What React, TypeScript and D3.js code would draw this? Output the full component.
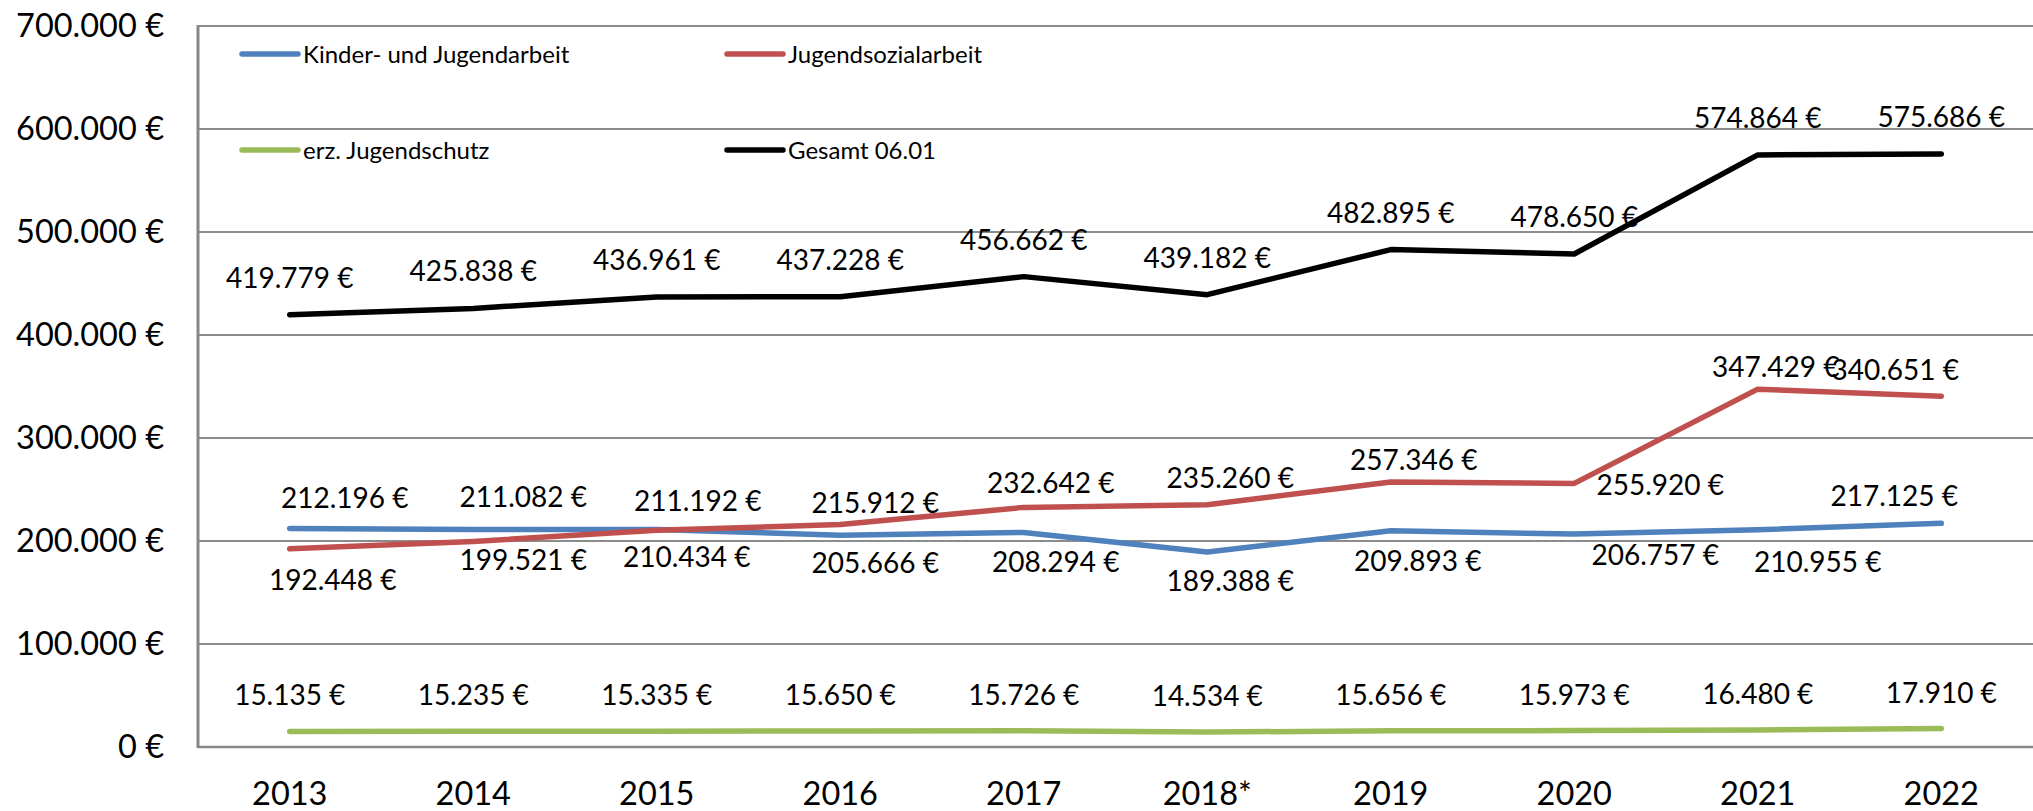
import React from "react";
import * as d3 from "d3";

// ---- Data ----
const years = ["2013", "2014", "2015", "2016", "2017", "2018*", "2019", "2020", "2021", "2022"];
const kinderJugendarbeit = [212196, 211082, 211192, 205666, 208294, 189388, 209893, 206757, 210955, 217125];
const jugendsozialarbeit = [192448, 199521, 210434, 215912, 232642, 235260, 257346, 255920, 347429, 340651];
const erzJugendschutz = [15135, 15235, 15335, 15650, 15726, 14534, 15656, 15973, 16480, 17910];
const gesamt = [419779, 425838, 436961, 437228, 456662, 439182, 482895, 478650, 574864, 575686];
const yTicks = [0, 100000, 200000, 300000, 400000, 500000, 600000, 700000];
const seriesNames = ["Kinder- und Jugendarbeit", "Jugendsozialarbeit", "erz. Jugendschutz", "Gesamt 06.01"];

// ---- Layout / style (label offsets relative to each point: [dx, dy of baseline]) ----
const blueLabelOffsets = [[55, -20], [50, -23], [41, -18], [35, 38], [32, 40], [23, 39], [27, 40], [81, 31], [60, 42], [-47, -17]];
const redLabelOffsets = [[43, 41], [50, 29], [30, 37], [35, -12], [27, -14], [23, -17], [23, -12], [86, 12], [18, -12], [-46, -16]];
const greenLabelOffsets = years.map(() => [0, -26]);
const blackLabelOffsets = years.map(() => [0, -27]);

const W = 2033;
const H = 811;
const M = { left: 198, right: 2033, top: 26, bottom: 747 };
const FONT = "Lato, 'Open Sans', sans-serif";

const colors = ["#4F81BD", "#C0504D", "#9BBB59", "#000000"];

const de = d3.formatLocale({ decimal: ",", thousands: ".", grouping: [3], currency: ["", " €"] });
const fmt = (v: number) => de.format(",.0f")(v) + " €";

export default function App() {
  const x = d3.scaleBand<string>().domain(years).range([M.left, M.right]).padding(0);
  const cx = (i: number) => (x(years[i]) as number) + x.bandwidth() / 2;
  const y = d3.scaleLinear().domain([0, 700000]).range([M.bottom, M.top]);

  const series = [
    { name: seriesNames[0], values: kinderJugendarbeit, color: colors[0], offsets: blueLabelOffsets },
    { name: seriesNames[1], values: jugendsozialarbeit, color: colors[1], offsets: redLabelOffsets },
    { name: seriesNames[2], values: erzJugendschutz, color: colors[2], offsets: greenLabelOffsets },
    { name: seriesNames[3], values: gesamt, color: colors[3], offsets: blackLabelOffsets },
  ];

  const line = d3
    .line<number>()
    .x((_, i) => cx(i))
    .y((d) => y(d));

  const legendPos = [
    [242, 54],
    [727, 54],
    [242, 150],
    [727, 150],
  ];

  return (
    <svg
      width={W}
      height={H}
      style={{ position: "absolute", left: 0, top: 0, display: "block", background: "#fff" }}
      fontFamily={FONT}
    >
      <rect x={0} y={0} width={W} height={H} fill="#fff" />
      {/* gridlines */}
      {yTicks.map((t) => (
        <line key={"g" + t} x1={M.left} x2={M.right} y1={y(t)} y2={y(t)} stroke="#8c8c8c" strokeWidth={2} />
      ))}
      {/* axes */}
      <line x1={M.left} x2={M.left} y1={M.top - 1} y2={M.bottom + 1} stroke="#878787" strokeWidth={3} />
      <line x1={M.left} x2={M.right} y1={M.bottom} y2={M.bottom} stroke="#878787" strokeWidth={2.5} />
      {/* y tick labels */}
      {yTicks.map((t) => (
        <text key={"yl" + t} x={164} y={y(t) + 11} textAnchor="end" fontSize={32.5} fill="#000">
          {fmt(t)}
        </text>
      ))}
      {/* x labels */}
      {years.map((yr, i) => (
        <text key={"xl" + yr} x={cx(i)} y={805} textAnchor="middle" fontSize={32.5} fill="#000">
          {yr}
        </text>
      ))}
      {/* lines */}
      {series.map((s) => (
        <path
          key={"p" + s.name}
          d={line(s.values) as string}
          fill="none"
          stroke={s.color}
          strokeWidth={5.5}
          strokeLinecap="round"
          strokeLinejoin="round"
        />
      ))}
      {/* data labels */}
      {series.map((s) =>
        s.values.map((v, i) => (
          <text
            key={"dl" + s.name + i}
            x={cx(i) + s.offsets[i][0]}
            y={y(v) + s.offsets[i][1]}
            textAnchor="middle"
            fontSize={28}
            fill="#000"
          >
            {fmt(v)}
          </text>
        ))
      )}
      {/* legend */}
      {series.map((s, i) => (
        <g key={"lg" + s.name}>
          <line
            x1={legendPos[i][0]}
            x2={legendPos[i][0] + 56}
            y1={legendPos[i][1]}
            y2={legendPos[i][1]}
            stroke={s.color}
            strokeWidth={5.5}
            strokeLinecap="round"
          />
          <text x={legendPos[i][0] + 61} y={legendPos[i][1] + 8.5} fontSize={24} fill="#000">
            {s.name}
          </text>
        </g>
      ))}
    </svg>
  );
}
